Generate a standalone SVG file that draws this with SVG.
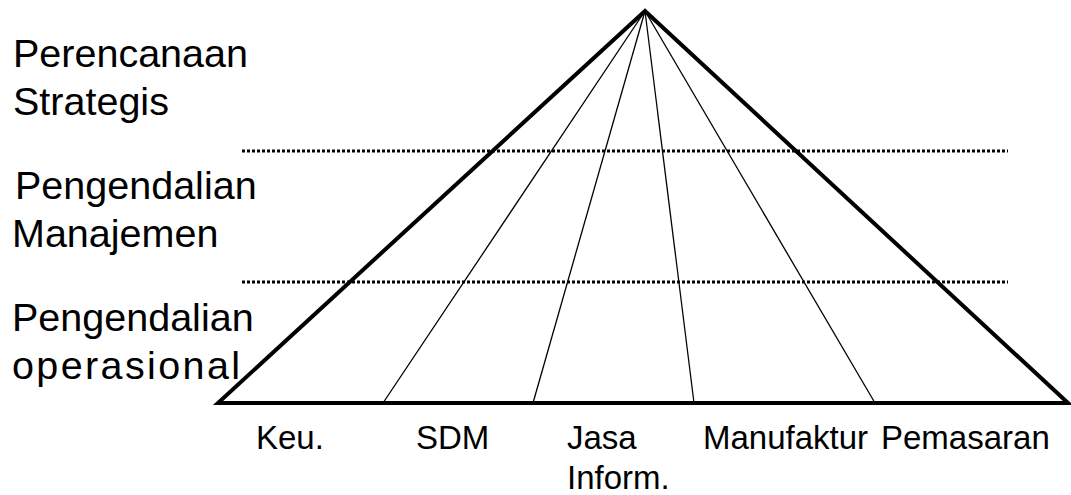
<svg xmlns="http://www.w3.org/2000/svg" width="1071" height="495" viewBox="0 0 1071 495">
<style>
  .lbl { font-family: "Liberation Sans", Arial, sans-serif; font-size: 39.5px; fill: #000; }
  .cat { font-family: "Liberation Sans", Arial, sans-serif; font-size: 33px; fill: #000; }
  .thick { stroke: #000; stroke-width: 4; fill: none; stroke-linejoin: miter; }
  .thin { stroke: #000; stroke-width: 1.3; fill: none; }
  .dot { stroke: #000; stroke-width: 3; stroke-dasharray: 3 2; fill: none; }
</style>
<rect width="1071" height="495" fill="#fff"/>
<g id="levels">
  <line class="dot" x1="242" y1="151" x2="1008" y2="151"/>
  <line class="dot" x1="242" y1="282" x2="1008" y2="282"/>
</g>
<g id="connectors">
  <line class="thin" x1="645" y1="11" x2="383" y2="403"/>
  <line class="thin" x1="645" y1="11" x2="533" y2="403"/>
  <line class="thin" x1="645" y1="11" x2="694" y2="403"/>
  <line class="thin" x1="645" y1="11" x2="875" y2="403"/>
</g>
<g id="pyramid">
  <polygon class="thick" points="645,11 1068,403 218,403"/>
</g>
<g id="label-strategis">
  <text class="lbl" x="13" y="67">Perencanaan</text>
  <text class="lbl" x="13" y="115">Strategis</text>
</g>
<g id="label-manajemen">
  <text class="lbl" x="15" y="199">Pengendalian</text>
  <text class="lbl" x="12" y="247">Manajemen</text>
</g>
<g id="label-operasional">
  <text class="lbl" x="12" y="331">Pengendalian</text>
  <text class="lbl" x="12" y="379" textLength="228" lengthAdjust="spacing">operasional</text>
</g>
<g id="cat-keu"><text class="cat" x="256" y="449">Keu.</text></g>
<g id="cat-sdm"><text class="cat" x="416" y="449">SDM</text></g>
<g id="cat-jasa">
  <text class="cat" x="567" y="449">Jasa</text>
  <text class="cat" x="567" y="489">Inform.</text>
</g>
<g id="cat-manufaktur"><text class="cat" x="703" y="449">Manufaktur</text></g>
<g id="cat-pemasaran"><text class="cat" x="881" y="449">Pemasaran</text></g>
</svg>
